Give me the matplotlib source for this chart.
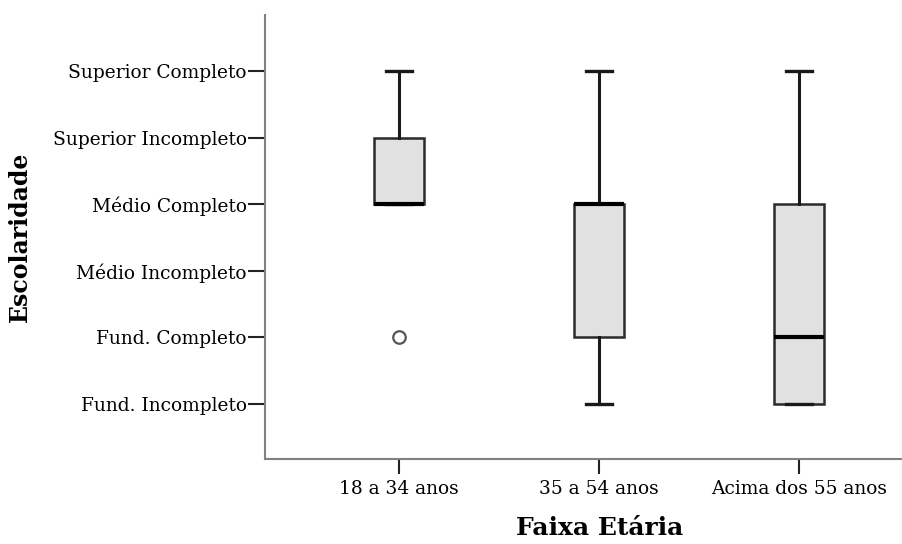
import matplotlib
matplotlib.use("Agg")
import matplotlib.pyplot as plt

# Categories and ordinal levels
grupos = ["18 a 34 anos", "35 a 54 anos", "Acima dos 55 anos"]
niveis = ["Fund. Incompleto", "Fund. Completo", "Médio Incompleto",
          "Médio Completo", "Superior Incompleto", "Superior Completo"]

# Box statistics per group (1 = Fund. Incompleto ... 6 = Superior Completo)
whis_lo = [4, 1, 1]
q1 = [4, 2, 1]
medianas = [4, 4, 2]
q3 = [5, 4, 4]
whis_hi = [6, 6, 6]
outliers = [[2], [], []]

plt.rcParams['font.family'] = ['DejaVu Serif']

fig = plt.figure(figsize=(9.02, 5.44), dpi=100)
ax = fig.add_axes([0.2938, 0.1562, 0.7062, 0.8162])

stats = []
for i, g in enumerate(grupos):
    stats.append({
        'label': g, 'whislo': whis_lo[i], 'q1': q1[i], 'med': medianas[i],
        'q3': q3[i], 'whishi': whis_hi[i], 'fliers': outliers[i],
    })

ax.bxp(stats, positions=[1, 2, 3], widths=0.25, patch_artist=True,
       capwidths=0.13,
       boxprops=dict(facecolor='#e1e1e1', edgecolor='#2a2a2a', linewidth=1.8),
       medianprops=dict(color='black', linewidth=3),
       whiskerprops=dict(color='#1a1a1a', linewidth=2.2),
       capprops=dict(color='#1a1a1a', linewidth=2.4),
       flierprops=dict(marker='o', markersize=9, markerfacecolor='none',
                       markeredgecolor='#555555', markeredgewidth=1.6))

ax.set_xlim(0.33, 3.515)
ax.set_ylim(0.174, 6.84)
ax.set_yticks(range(1, 7))
ax.set_yticklabels(niveis, fontsize=13.4)
ax.set_xticks([1, 2, 3])
ax.set_xticklabels(grupos, fontsize=13.4)
ax.tick_params(axis='y', length=12, width=1.5, color='#222222', pad=1)
ax.tick_params(axis='x', length=11, width=1.5, color='#222222', pad=4)

for s in ['top', 'right']:
    ax.spines[s].set_visible(False)
for s in ['left', 'bottom']:
    ax.spines[s].set_color('#808080')
    ax.spines[s].set_linewidth(1.5)

ax.set_ylabel('Escolaridade', fontsize=17, fontweight='bold', va='center')
ax.yaxis.set_label_coords(-0.385, 0.5)
ax.set_xlabel('Faixa Etária', fontsize=18, fontweight='bold', va='center')
ax.xaxis.set_label_coords(0.526, -0.155)

fig.savefig("out.png", dpi=100)
